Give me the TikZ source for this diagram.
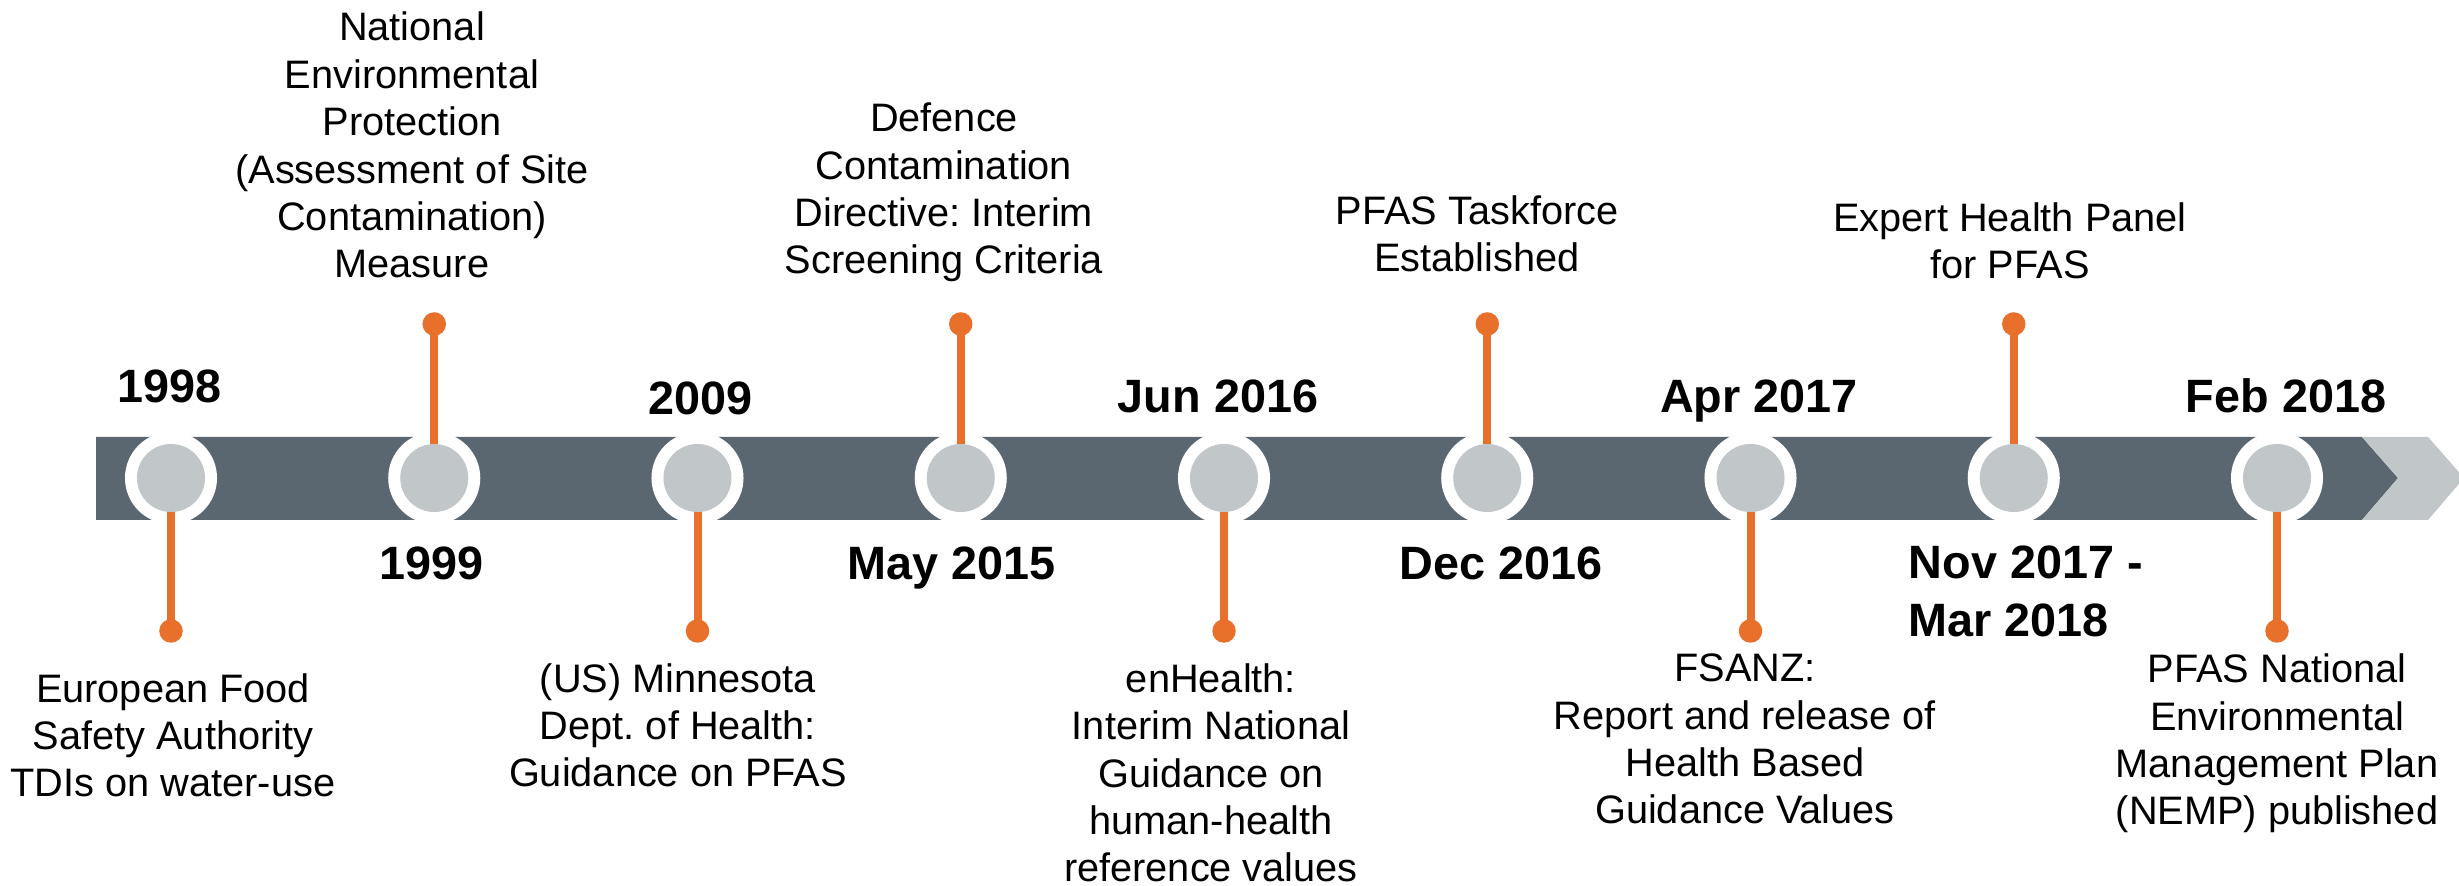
\documentclass[tikz,border=0pt]{standalone}
\usepackage{fontspec}
\setmainfont{Liberation Sans}
\usetikzlibrary{positioning}
\definecolor{barslate}{HTML}{5B6770}
\definecolor{hubgrey}{HTML}{C1C6C8}
\definecolor{tlorange}{HTML}{E8702A}
\frenchspacing
\begin{document}
\begin{tikzpicture}[x=0.01cm, y=-0.01cm, line join=round,
  ring/.style={circle, fill=white, inner sep=0pt, minimum size=0.92cm},
  hub/.style={circle, fill=hubgrey, inner sep=0pt, minimum size=0.68cm},
  knob/.style={circle, fill=tlorange, inner sep=0pt, minimum size=0.235cm},
  stemline/.style={draw=tlorange, line width=0.08cm},
  yearlbl/.style={font=\fontsize{13.3}{16.5}\selectfont\bfseries, inner sep=0pt, anchor=base},
  eventlbl/.style={font=\fontsize{11.3}{13.5}\selectfont, align=center, inner sep=0pt, anchor=base}]
 \useasboundingbox (0,0) rectangle (2459,886);
 \fill[barslate] (96,437) -- (2362,437) -- (2398,478) -- (2362,520) -- (96,520) -- cycle;
 \fill[hubgrey] (2362,437) -- (2428,437) -- (2464,478) -- (2428,520) -- (2362,520) -- (2398,478) -- cycle;
 \foreach \i/\y in {0/631,1/324,2/631,3/324,4/631,5/324,6/631,7/324,8/631} {
   \node[ring] (r\i) at ({171+263.25*\i},478) {};
   \node[knob] (k\i) at ({171+263.25*\i},\y) {};
   \draw[stemline] (k\i.center) -- (r\i.center);
   \node[hub] (c\i) at (r\i) {};
 }
 \node[yearlbl] (y0) at (170,403) {1998};
 \node[yearlbl] (y1) at (432,580) {1999};
 \node[yearlbl] (y2) at (701,415) {2009};
 \node[yearlbl] (y3) at (952,580) {May 2015};
 \node[yearlbl] (y4) at (1218,413) {Jun 2016};
 \node[yearlbl] (y5) at (1501,580) {Dec 2016};
 \node[yearlbl] (y6) at (1759,413) {Apr 2017};
 \node[yearlbl, align=left, anchor=base west] (y7) at (1908,637) {Nov 2017 -\\Mar 2018};
 \node[yearlbl] (y8) at (2286,413) {Feb 2018};
 \node[eventlbl] (e0) at (173,797) {European Food\\Safety Authority\\TDIs on water-use};
 \node[eventlbl] (e1) at (412,278) {National\\Environmental\\Protection\\(Assessment of Site\\Contamination)\\Measure};
 \node[eventlbl] (e2) at (678,787) {(US) Minnesota\\Dept. of Health:\\Guidance on PFAS};
 \node[eventlbl] (e3) at (944,274) {Defence\\Contamination\\Directive: Interim\\Screening Criteria};
 \node[eventlbl] (e4) at (1211,882) {enHealth:\\Interim National\\Guidance on\\human-health\\reference values};
 \node[eventlbl] (e5) at (1477,272) {PFAS Taskforce\\Established};
 \node[eventlbl] (e6) at (1745,824) {FSANZ:\\Report and release of\\Health Based\\Guidance Values};
 \node[eventlbl] (e7) at (2010,279) {Expert Health Panel\\for PFAS};
 \node[eventlbl] (e8) at (2277,825) {PFAS National\\Environmental\\Management Plan\\(NEMP) published};
\end{tikzpicture}
\end{document}
